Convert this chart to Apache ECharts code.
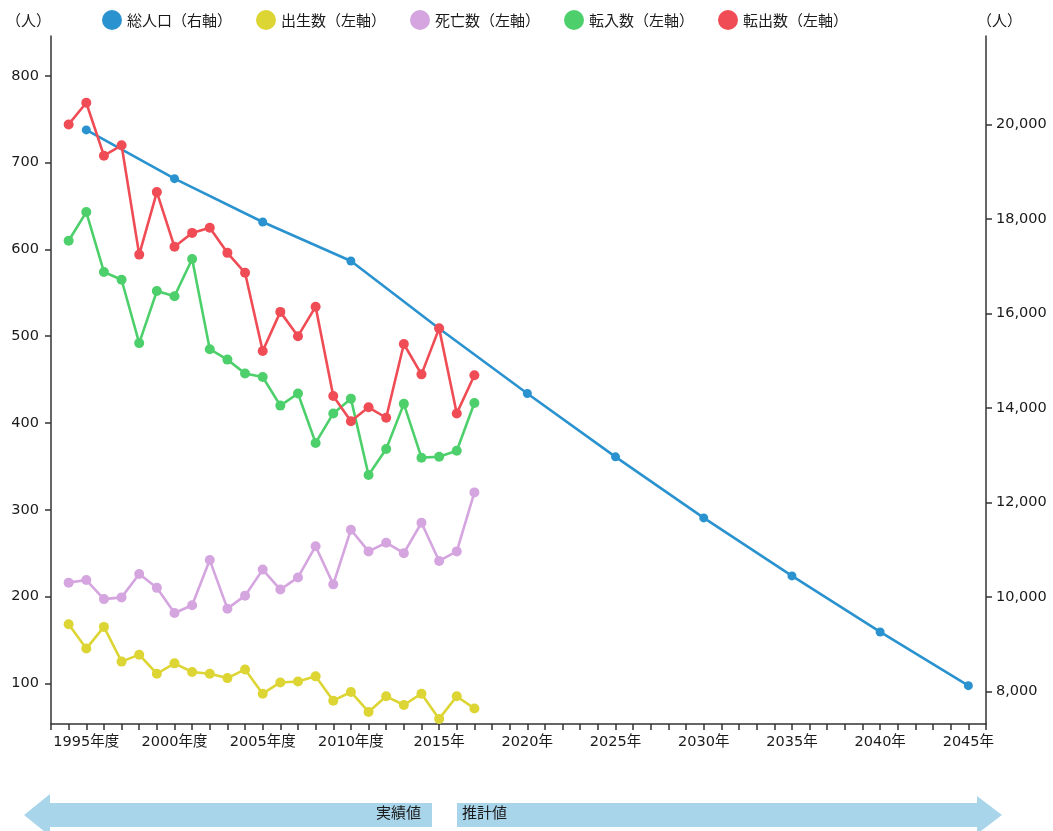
<!DOCTYPE html>
<html>
<head>
<meta charset="utf-8">
<script src="https://cdn.jsdelivr.net/npm/echarts@6/dist/echarts.min.js"></script>
<style>
html, body { margin: 0; padding: 0; background: #fff; }
#chart { width: 1053px; height: 831px; }
</style>
</head>
<body>
<div id="chart"></div>
<script>
// 実績値 (年度)
var years = [1994, 1995, 1996, 1997, 1998, 1999, 2000, 2001, 2002, 2003, 2004, 2005,
             2006, 2007, 2008, 2009, 2010, 2011, 2012, 2013, 2014, 2015, 2016, 2017];
var births   = [168, 140, 165, 125, 133, 111, 123, 113, 111, 106, 116, 88,
                101, 102, 108, 80, 90, 67, 85, 75, 88, 59, 85, 71];
var deaths   = [216, 219, 197, 199, 226, 210, 181, 190, 242, 186, 201, 231,
                208, 222, 258, 214, 277, 252, 262, 250, 285, 241, 252, 320];
var movesIn  = [610, 643, 574, 565, 492, 552, 546, 589, 485, 473, 457, 453,
                420, 434, 377, 411, 428, 340, 370, 422, 360, 361, 368, 423];
var movesOut = [744, 769, 708, 720, 594, 666, 603, 619, 625, 596, 573, 483,
                528, 500, 534, 431, 402, 418, 406, 491, 456, 509, 411, 455];

// 総人口 (実績 + 推計)
var popYears   = [1995, 2000, 2005, 2010, 2015, 2020, 2025, 2030, 2035, 2040, 2045];
var population = [19888, 18856, 17938, 17112, 15683, 14306, 12965, 11672, 10443, 9256, 8119];

var seriesNames = ['総人口（右軸）', '出生数（左軸）', '死亡数（左軸）', '転入数（左軸）', '転出数（左軸）'];
var seriesColors = ['#2a93cf', '#dcd534', '#d5a5df', '#4dd06b', '#ef4c55'];

var numFont = "'DejaVu Sans', 'Noto Sans CJK JP', sans-serif";
var jpFont = "'Noto Sans CJK JP', sans-serif";
var axisColor = '#333';
var textColor = '#1a1a1a';

function pairs(xs, ys) {
    return xs.map(function (x, i) { return [x, ys[i]]; });
}

var leftAll = births.concat(deaths, movesIn, movesOut);
var leftMin = Math.min.apply(null, leftAll) * 0.9;
var leftMax = Math.max.apply(null, leftAll) * 1.1;
var rightMin = Math.min.apply(null, population) * 0.9;
var rightMax = Math.max.apply(null, population) * 1.1;

function lineSeries(idx, data, yAxisIndex, size) {
    return {
        name: seriesNames[idx],
        type: 'line',
        yAxisIndex: yAxisIndex,
        data: data,
        symbol: 'circle',
        symbolSize: size,
        itemStyle: { color: seriesColors[idx] },
        lineStyle: { color: seriesColors[idx], width: 2.6 },
        emphasis: { disabled: true }
    };
}

var chart = echarts.init(document.getElementById('chart'));

var option = {
    animation: false,
    grid: { left: 51, right: 67, top: 36, bottom: 107 },
    legend: {
        left: 97,
        top: 5,
        icon: 'circle',
        itemWidth: 20,
        itemHeight: 20,
        itemGap: 24,
        textStyle: { fontFamily: jpFont, fontSize: 15, color: textColor },
        data: seriesNames
    },
    xAxis: {
        type: 'value',
        min: 1993,
        max: 2046,
        interval: 1,
        splitLine: { show: false },
        axisLine: { lineStyle: { color: axisColor, width: 1.5 } },
        axisTick: { length: 6, lineStyle: { color: axisColor, width: 1.5 } },
        axisLabel: {
            margin: 11,
            fontFamily: numFont,
            fontSize: 14.5,
            color: textColor,
            formatter: function (v) {
                if (v % 5 !== 0 || v > 2045) return '';
                return v <= 2010 ? v + '年度' : v + '年';
            }
        }
    },
    yAxis: [
        {
            type: 'value',
            position: 'left',
            min: leftMin,
            max: leftMax,
            splitNumber: 8,
            splitLine: { show: false },
            axisLine: { show: true, lineStyle: { color: axisColor, width: 1.5 } },
            axisTick: { show: true, length: 6, lineStyle: { color: axisColor, width: 1.5 } },
            axisLabel: {
                margin: 12,
                showMinLabel: false,
                showMaxLabel: false,
                fontFamily: numFont,
                fontSize: 14.5,
                color: textColor
            }
        },
        {
            type: 'value',
            position: 'right',
            min: rightMin,
            max: rightMax,
            splitNumber: 7,
            splitLine: { show: false },
            axisLine: { show: true, lineStyle: { color: axisColor, width: 1.5 } },
            axisTick: { show: true, length: 6, lineStyle: { color: axisColor, width: 1.5 } },
            axisLabel: {
                margin: 10,
                showMinLabel: false,
                showMaxLabel: false,
                fontFamily: numFont,
                fontSize: 14.5,
                color: textColor,
                formatter: function (v) { return v.toLocaleString('en-US'); }
            }
        }
    ],
    series: [
        lineSeries(0, pairs(popYears, population), 1, 9),
        lineSeries(1, pairs(years, births), 0, 10),
        lineSeries(2, pairs(years, deaths), 0, 10),
        lineSeries(3, pairs(years, movesIn), 0, 10),
        lineSeries(4, pairs(years, movesOut), 0, 10)
    ],
    graphic: [
        {
            type: 'text', left: 6, top: 13,
            style: { text: '（人）', font: '15px ' + jpFont, fill: textColor }
        },
        {
            type: 'text', left: 977, top: 13,
            style: { text: '（人）', font: '15px ' + jpFont, fill: textColor }
        },
        {
            type: 'polygon',
            shape: { points: [[24, 815], [50, 794], [50, 803], [432, 803], [432, 827], [50, 827], [50, 836]] },
            style: { fill: '#a9d5eb' }
        },
        {
            type: 'polygon',
            shape: { points: [[457, 803], [977, 803], [977, 796], [1002, 815], [977, 834], [977, 827], [457, 827]] },
            style: { fill: '#a9d5eb' }
        },
        {
            type: 'text', right: 1053 - 421, top: 805,
            style: { text: '実績値', font: '15px ' + jpFont, fill: textColor }
        },
        {
            type: 'text', left: 462, top: 805,
            style: { text: '推計値', font: '15px ' + jpFont, fill: textColor }
        }
    ]
};

chart.setOption(option);
</script>
</body>
</html>
